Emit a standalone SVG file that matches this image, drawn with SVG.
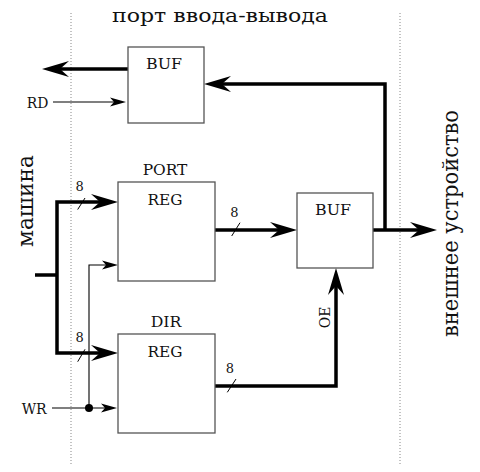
<svg xmlns="http://www.w3.org/2000/svg" width="480" height="472" viewBox="0 0 480 472">
<defs>
<style>
.box{fill:#fff;stroke:#555;stroke-width:1.3}
.lbl{font-family:"DejaVu Serif","Liberation Serif",serif;fill:#111;text-anchor:middle}
.big{font-family:"DejaVu Serif","Liberation Serif",serif;fill:#111;font-size:19px}
.thick{fill:none;stroke:#000;stroke-width:3.5;stroke-linejoin:miter}
.thin{fill:none;stroke:#000;stroke-width:1.1}
.slash{stroke:#000;stroke-width:1}
.dot{fill:none;stroke:#888;stroke-width:1;stroke-dasharray:1 2}
</style>
<marker id="ab" markerUnits="userSpaceOnUse" orient="auto-start-reverse" refX="0" refY="0" markerWidth="40" markerHeight="40" overflow="visible">
<path d="M-9,-8 L18,0 L-9,8 L0,0 Z" fill="#000"/>
</marker>
<marker id="at" markerUnits="userSpaceOnUse" orient="auto" refX="0" refY="0" markerWidth="30" markerHeight="30" overflow="visible">
<path d="M-4,-4.5 L12,0 L-4,4.5 L0,0 Z" fill="#000"/>
</marker>
</defs>
<rect width="480" height="472" fill="#fff"/>
<line class="dot" x1="71" y1="13" x2="71" y2="466"/>
<line class="dot" x1="400" y1="13" x2="400" y2="466"/>
<text class="big" x="112" y="22" textLength="216" lengthAdjust="spacingAndGlyphs">порт ввода-вывода</text>
<text class="big" style="font-size:23px" transform="translate(33,247) rotate(-90)" textLength="92" lengthAdjust="spacingAndGlyphs">машина</text>
<text class="big" style="font-size:23px" transform="translate(458,337) rotate(-90)" textLength="227" lengthAdjust="spacingAndGlyphs">внешнее устройство</text>
<g id="connectors">
<path class="thick" d="M128,69 H60" marker-end="url(#ab)"/>
<path class="thin" d="M53,102 H114" marker-end="url(#at)"/>
<path class="thick" d="M373,230 H419" marker-end="url(#ab)"/>
<path class="thick" d="M385,230 V84 H222" marker-end="url(#ab)"/>
<path class="thick" d="M100,202 H57 V353 H100" marker-start="url(#ab)" marker-end="url(#ab)"/>
<path class="thick" d="M35,275 H57"/>
<path class="thick" d="M215,230 H279" marker-end="url(#ab)"/>
<path class="thick" d="M215,386 H336 V286" marker-end="url(#ab)"/>
<path class="thin" d="M89,408 V265 H106" marker-end="url(#at)"/>
<path class="thin" d="M52,408 H105" marker-end="url(#at)"/>
<circle cx="89" cy="408" r="4" fill="#000"/>
<line class="slash" x1="77.7" y1="209.5" x2="85" y2="198"/>
<line class="slash" x1="77.7" y1="361.7" x2="85" y2="349.3"/>
<line class="slash" x1="231.7" y1="236" x2="240" y2="222.7"/>
<line class="slash" x1="227.3" y1="392.3" x2="236" y2="379"/>
<text class="lbl" x="79.7" y="190.7" font-size="13">8</text>
<text class="lbl" x="79.7" y="342.3" font-size="13">8</text>
<text class="lbl" x="234.5" y="217.3" font-size="13">8</text>
<text class="lbl" x="230" y="373.3" font-size="13">8</text>
<text class="lbl" x="37.5" y="107.5" font-size="14" textLength="21.6" lengthAdjust="spacingAndGlyphs">RD</text>
<text class="lbl" x="34.2" y="414" font-size="14" textLength="25" lengthAdjust="spacingAndGlyphs">WR</text>
<text class="lbl" transform="translate(330,317.5) rotate(-90)" font-size="14" textLength="21.6" lengthAdjust="spacingAndGlyphs">OE</text>
</g>
<g id="buf_top">
<rect class="box" x="128" y="47" width="76" height="76"/>
<text class="lbl" x="164" y="69" font-size="15" textLength="36" lengthAdjust="spacingAndGlyphs">BUF</text>
</g>
<g id="port_reg">
<text class="lbl" x="165" y="175" font-size="15" textLength="44.7" lengthAdjust="spacingAndGlyphs">PORT</text>
<rect class="box" x="118" y="182" width="97" height="99"/>
<text class="lbl" x="165" y="205" font-size="15" textLength="35" lengthAdjust="spacingAndGlyphs">REG</text>
</g>
<g id="dir_reg">
<text class="lbl" x="166" y="326.7" font-size="15" textLength="30.7" lengthAdjust="spacingAndGlyphs">DIR</text>
<rect class="box" x="118" y="334" width="97" height="99"/>
<text class="lbl" x="165" y="356.7" font-size="15" textLength="35" lengthAdjust="spacingAndGlyphs">REG</text>
</g>
<g id="buf_mid">
<rect class="box" x="297" y="193" width="76" height="75"/>
<text class="lbl" x="333" y="215" font-size="15" textLength="36" lengthAdjust="spacingAndGlyphs">BUF</text>
</g>
</svg>
